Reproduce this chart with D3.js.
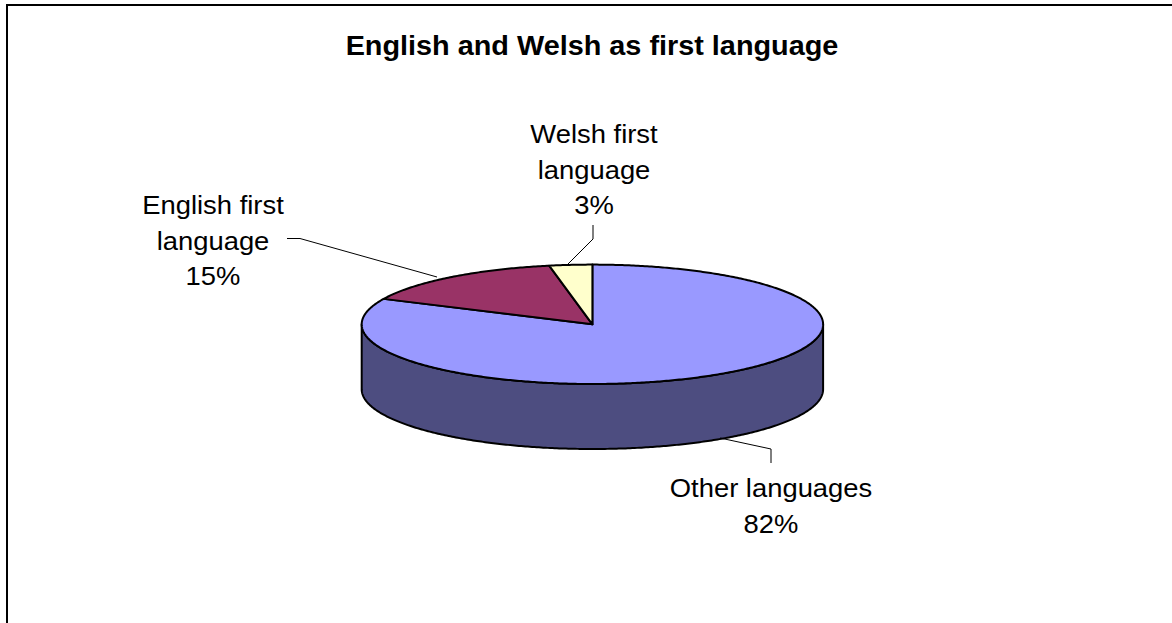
<!DOCTYPE html>
<html>
<head>
<meta charset="utf-8">
<script src="https://cdn.jsdelivr.net/npm/d3@7"></script>
<style>
  html, body { margin: 0; padding: 0; background: #fff; }
  svg { display: block; }
  text { font-family: Arial, "Liberation Sans", sans-serif; fill: #000; }
</style>
</head>
<body>
<svg id="chart" width="1172" height="623"></svg>
<script>
// Share of pupils by first language
const categories = ["Other languages", "English first language", "Welsh first language"];
const values = [82, 15, 3];
const labelLines = [["Other languages", "82%"], ["English first", "language", "15%"], ["Welsh first", "language", "3%"]];
const topColors = ["#9999ff", "#993366", "#ffffcc"];
const sideColors = ["#4d4d80", "#4d1a33", "#808066"];

const svg = d3.select("#chart");
const W = 1172, H = 623;

// chart frame
svg.append("rect")
  .attr("x", 7).attr("y", 5).attr("width", W + 20).attr("height", H + 20)
  .attr("fill", "#fff").attr("stroke", "#000").attr("stroke-width", 2);

svg.append("text")
  .attr("transform", "translate(592,55) scale(1.03,1)")
  .attr("text-anchor", "middle")
  .style("font-size", "28px").style("font-weight", "bold")
  .text("English and Welsh as first language");

// 3D pie geometry
const cx = 592.4, cy = 324.3, rx = 230.7, ry = 59.7, depth = 65;
const pie = d3.pie().sort(null).value(d => d).startAngle(0).endAngle(2 * Math.PI);
const arcs = pie(values);

const pt = (a, dy = 0) => [cx + rx * Math.sin(a), cy - ry * Math.cos(a) + dy];
function arcPoints(a0, a1, dy) {
  const n = Math.max(2, Math.ceil(Math.abs(a1 - a0) / 0.01));
  return d3.range(n + 1).map(i => pt(a0 + (a1 - a0) * i / n, dy));
}
const line = d3.line();

const g = svg.append("g");

// side walls: only the front half (angles between pi/2 and 3pi/2) is visible
arcs.forEach((d, i) => {
  const s = Math.max(d.startAngle, Math.PI / 2);
  const e = Math.min(d.endAngle, 3 * Math.PI / 2);
  if (e <= s) return;
  const pts = arcPoints(s, e, 0).concat(arcPoints(e, s, depth));
  g.append("path")
    .attr("d", line(pts) + "Z")
    .attr("fill", sideColors[i])
    .attr("stroke", "#000").attr("stroke-width", 2).attr("stroke-linejoin", "round");
});

// top faces
arcs.forEach((d, i) => {
  const pts = [[cx, cy]].concat(arcPoints(d.startAngle, d.endAngle, 0));
  g.append("path")
    .attr("d", line(pts) + "Z")
    .attr("fill", topColors[i])
    .attr("stroke", "#000").attr("stroke-width", 2).attr("stroke-linejoin", "round");
});

// data labels with leader lines
const labelPos = [
  { x: 771, y: 497, leader: [[720, 438], [771, 449], [771, 463]] },
  { x: 213, y: 214, leader: [[287, 238.5], [300, 238.5], [437, 277]] },
  { x: 594, y: 143, leader: [[593, 225], [593, 239], [568, 264]] }
];

labelPos.forEach((p, i) => {
  svg.append("path")
    .attr("d", line(p.leader))
    .attr("fill", "none").attr("stroke", "#000").attr("stroke-width", 1);
  const t = svg.append("text")
    .attr("transform", `translate(${p.x},${p.y}) scale(1.07,1)`)
    .attr("text-anchor", "middle")
    .style("font-size", "25.6px");
  labelLines[i].forEach((s, k) => {
    t.append("tspan").attr("x", 0).attr("y", k * 35.7).text(s);
  });
});
</script>
</body>
</html>
